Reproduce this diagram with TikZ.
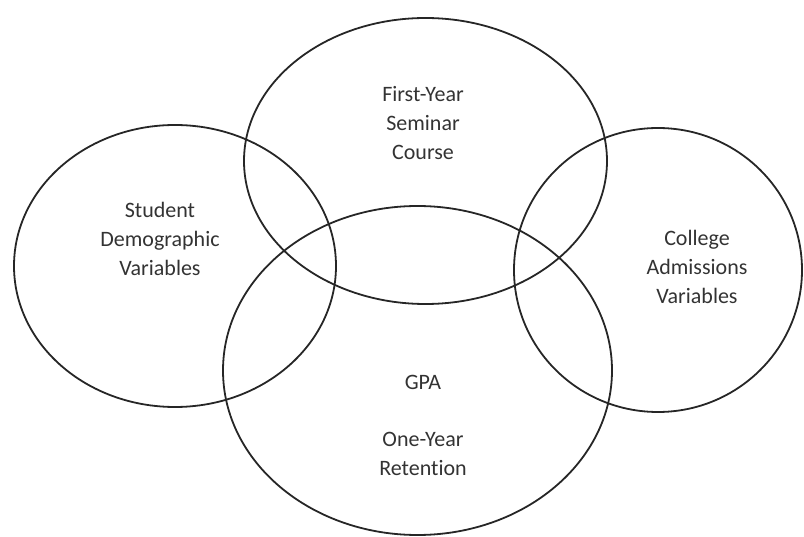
\documentclass[tikz,border=0pt]{standalone}
\usepackage{fontspec}
\setmainfont{Carlito}[Ligatures=NoCommon]
\usepackage{tikz}
\usetikzlibrary{shapes.geometric}

\begin{document}
\begin{tikzpicture}[x=1pt,y=-1pt, every node/.style={align=center}]
\tikzset{ring/.style={draw=black!85,line width=1.8pt,ellipse,inner sep=0pt,outer sep=0pt}, lbl/.style={font=\fontsize{22}{28.8}\selectfont,text=black!80}}
\useasboundingbox (0,0) rectangle (804,537);
% the four overlapping sets
\node[ring,minimum width=322pt,minimum height=282pt] (demo) at (175,266) {};
\node[ring,minimum width=363pt,minimum height=286pt] (fys) at (425.5,161) {};
\node[ring,minimum width=288pt,minimum height=284pt] (adm) at (658,270) {};
\node[ring,minimum width=389pt,minimum height=329pt] (out) at (417.5,370.5) {};
% labels
\node[lbl] (demotxt) at (160,239) {Student\\Demographic\\Variables};
\node[lbl] (fystxt) at (423,123) {First-Year\\Seminar\\Course};
\node[lbl] (admtxt) at (697,267) {College\\Admissions\\Variables};
\node[lbl] (outtxt) at (423,425.5) {GPA\\ \\One-Year\\Retention};
\end{tikzpicture}
\end{document}
